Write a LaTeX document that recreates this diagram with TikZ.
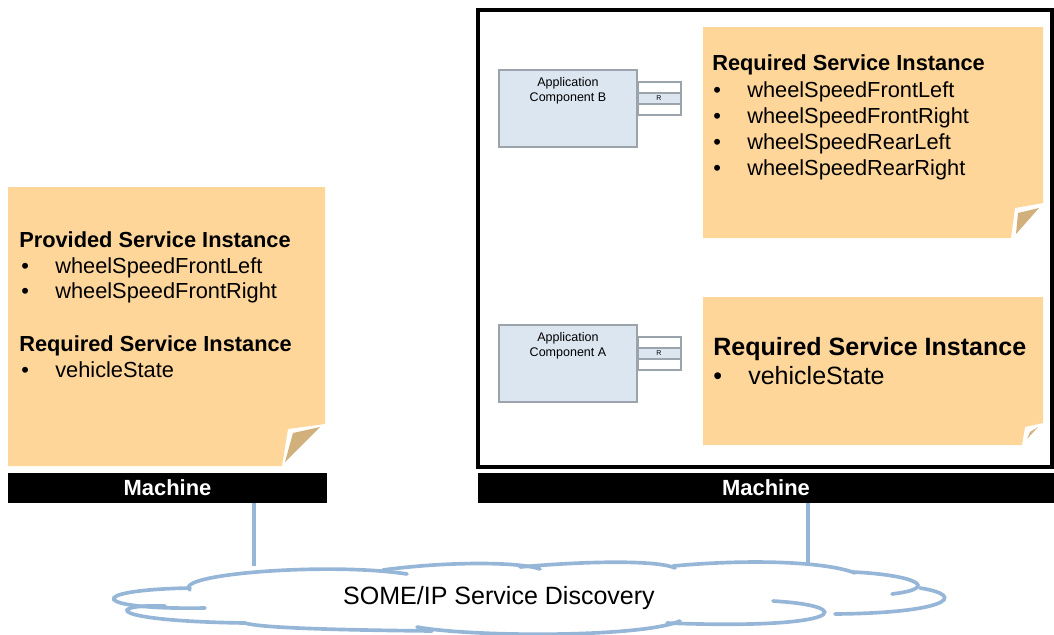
\documentclass[tikz,border=0pt]{standalone}
\usepackage{fontspec}
\setmainfont{Liberation Sans}
\usetikzlibrary{positioning}
\definecolor{notefill}{RGB}{254,214,154}
\definecolor{notefold}{RGB}{209,176,124}
\definecolor{appfill}{RGB}{220,230,241}
\definecolor{appline}{RGB}{155,163,172}
\definecolor{cloudline}{RGB}{150,182,216}

\begin{document}
\begin{tikzpicture}[
    x=0.025cm, y=-0.025cm,
    machine/.style={
        fill=black,
        text=white,
        minimum height=30*0.025cm,
        inner sep=0pt,
        font=\fontsize{15.6}{18}\selectfont\bfseries
    },
    appbox/.style={
        draw=appline,
        line width=1.9pt,
        fill=appfill,
        minimum width=138*0.025cm,
        minimum height=77*0.025cm,
        inner sep=0pt
    },
    apptext/.style={
        align=center,
        inner sep=0pt,
        font=\fontsize{8.9}{10.7}\selectfont
    },
    port/.style={
        draw=appline,
        line width=1.5pt
    },
    head/.style={
        anchor=base west,
        inner sep=0pt,
        font=\fontsize{15.5}{18}\selectfont\bfseries
    },
    item/.style={
        anchor=base west,
        inner sep=0pt,
        font=\fontsize{15.5}{18}\selectfont
    },
    bighead/.style={
        anchor=base west,
        inner sep=0pt,
        font=\fontsize{17.8}{21}\selectfont\bfseries
    },
    bigitem/.style={
        anchor=base west,
        inner sep=0pt,
        font=\fontsize{17.8}{21}\selectfont
    },
    link/.style={
        cloudline,
        line width=2.8pt
    },
    cloud/.style={
        cloudline,
        line width=2.6pt,
        line cap=round
    }
]
\useasboundingbox (0,0) rectangle (1054,634);

% ---------------- Left machine ----------------
\fill[notefill] (8,187) -- (325,187) -- (325,424) -- (288,429) -- (282,466) -- (8,466) -- cycle;
\fill[notefold] (293,433) -- (320,427) -- (285,462) -- cycle;

\node[head] (provL) at (19,247) {Provided Service Instance};
\node[item] (bulL1) at (21,273) {•};
\node[item] (itemL1) at (55,273) {wheelSpeedFrontLeft};
\node[item] (bulL2) at (21,298) {•};
\node[item] (itemL2) at (55,298) {wheelSpeedFrontRight};
\node[head] (reqL) at (19,351) {Required Service Instance};
\node[item] (bulL3) at (21,377) {•};
\node[item] (itemL3) at (55,377) {vehicleState};

\node[machine, minimum width=319*0.025cm] (machL) at (167.5,488) {Machine};

% ---------------- Right machine ----------------
\draw[line width=2.2pt] (478,10) rectangle (1052,467);

\node[machine, minimum width=576*0.025cm] (machR) at (766,488) {Machine};

% top note
\fill[notefill] (703,27) -- (1043,27) -- (1043,203) -- (1015,208) -- (1011,238) -- (703,238) -- cycle;
\fill[notefold] (1018,213) -- (1039,208) -- (1016,234) -- cycle;

\node[head] (reqB) at (712,70) {Required Service Instance};
\foreach \txt [count=\i] in {wheelSpeedFrontLeft,wheelSpeedFrontRight,wheelSpeedRearLeft,wheelSpeedRearRight} {
    \node[item] (bulB\i) at (713,71+26*\i) {•};
    \node[item] (itemB\i) at (747,71+26*\i) {\txt};
}

% bottom note
\fill[notefill] (703,297) -- (1043,297) -- (1043,423) -- (1025,427) -- (1022,445) -- (703,445) -- cycle;
\fill[notefold] (1030,432) -- (1038,427) -- (1027,439) -- cycle;

\node[bighead] (reqA) at (713,355) {Required Service Instance};
\node[bigitem] (bulA) at (713,384) {•};
\node[bigitem] (itemA) at (748,384) {vehicleState};

% application components
\node[appbox] (appB) at (568,108.5) {};
\node[apptext] (appBtxt) at (568,90.5) {Application\\Component B};
\draw[port, fill=white] (appB.east |- 0,82) rectangle (681,93);
\draw[port, fill=appfill] (appB.east |- 0,93) rectangle (681,104);
\draw[port, fill=white] (appB.east |- 0,104) rectangle (681,115);
\node[font=\fontsize{5}{6}\selectfont, inner sep=0pt] (portB) at (659,98.5) {R};

\node[appbox] (appA) at (568,363.5) {};
\node[apptext] (appAtxt) at (568,345.5) {Application\\Component A};
\draw[port, fill=white] (appA.east |- 0,337) rectangle (681,348);
\draw[port, fill=appfill] (appA.east |- 0,348) rectangle (681,359);
\draw[port, fill=white] (appA.east |- 0,359) rectangle (681,370);
\node[font=\fontsize{5}{6}\selectfont, inner sep=0pt] (portA) at (659,353.5) {R};

% ---------------- Network ----------------
\coordinate (netL) at (254,566);
\coordinate (netR) at (808,563);
\draw[link] (machL.south -| netL) -- (netL);
\draw[link] (machR.south -| netR) -- (netR);

\draw[cloud] (190,590) .. controls (172,574) and (330,562) .. (407,574);
\draw[cloud] (383,570) .. controls (450,561) and (520,562) .. (540,569);
\draw[cloud] (520,567) .. controls (600,560) and (660,561) .. (675,568);
\draw[cloud] (673,566) .. controls (760,558) and (830,563) .. (855,573);
\draw[cloud] (853,572) .. controls (915,575) and (942,588) .. (892,594);
\draw[cloud] (920,588) .. controls (970,596) and (945,613) .. (835,614);
\draw[cloud] (773,601) .. controls (860,606) and (845,630) .. (667,623);
\draw[cloud] (680,621) .. controls (640,638) and (470,637) .. (417,627);
\draw[cloud] (432,631) .. controls (340,630) and (260,628) .. (245,623);
\draw[cloud] (245,623) .. controls (105,621) and (105,604) .. (165,606);
\draw[cloud] (190,588) .. controls (82,590) and (90,610) .. (205,608);

\node[font=\fontsize{17.8}{21}\selectfont] (sd) at (499,598) {SOME/IP Service Discovery};

\end{tikzpicture}
\end{document}
